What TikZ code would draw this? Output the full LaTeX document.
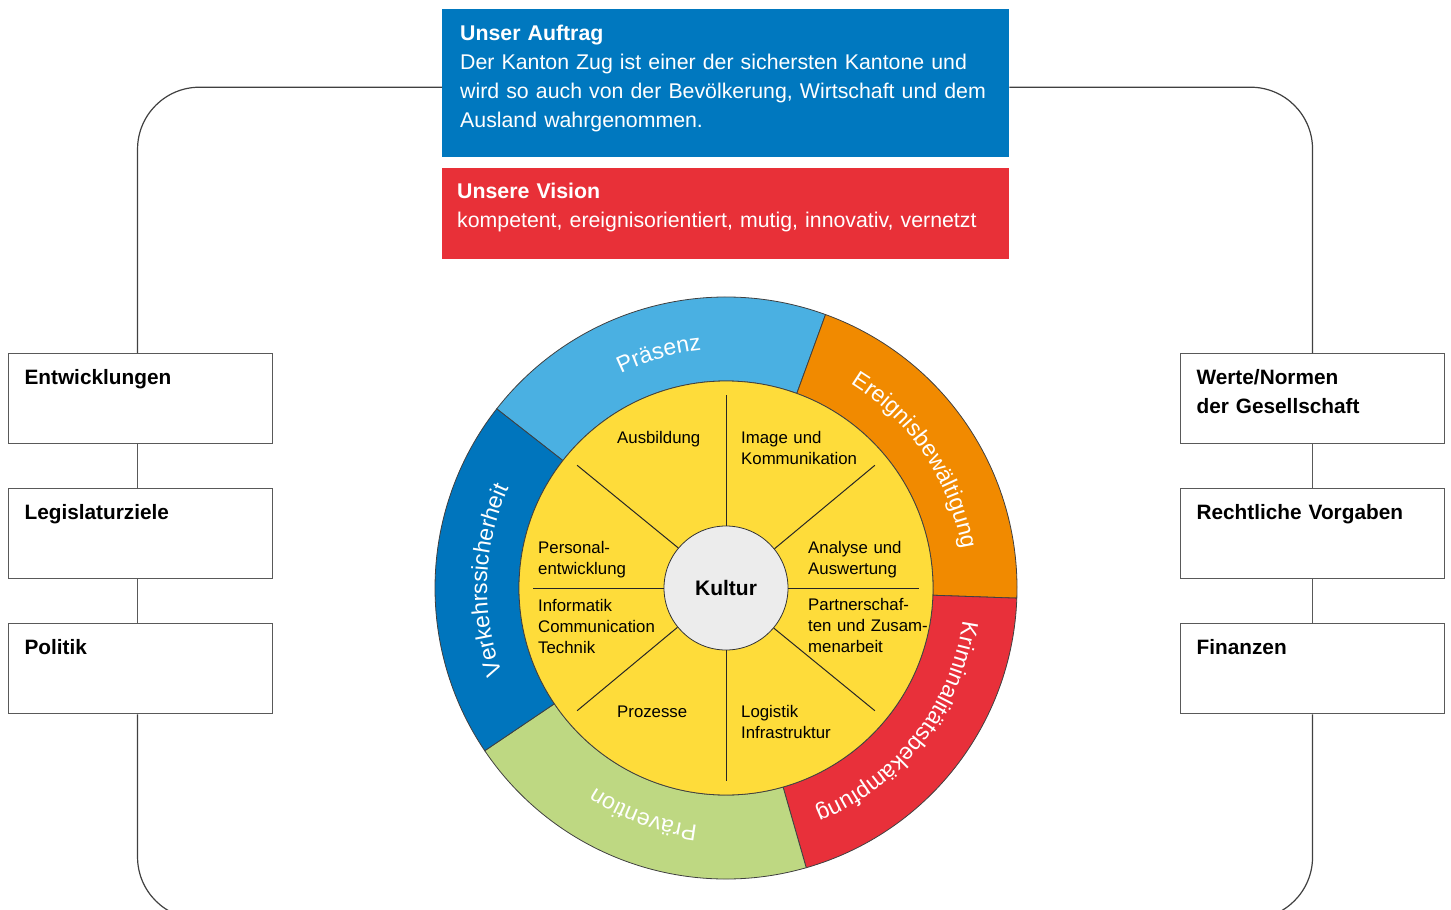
\documentclass[tikz,border=0pt]{standalone}
\usepackage{fontspec}
\setmainfont{Liberation Sans}
\usetikzlibrary{positioning}
\usetikzlibrary{decorations.text}
\usepackage{xcolor}

\definecolor{auftragblue}{RGB}{0,120,191}
\definecolor{visionred}{RGB}{232,48,56}
\definecolor{praesenzblue}{RGB}{74,176,226}
\definecolor{ereignisorange}{RGB}{241,138,0}
\definecolor{krimred}{RGB}{232,48,58}
\definecolor{praeventiongreen}{RGB}{190,216,130}
\definecolor{verkehrblue}{RGB}{0,117,189}
\definecolor{wheelyellow}{RGB}{254,220,58}
\definecolor{kulturgrey}{RGB}{236,236,236}

\begin{document}
\begin{tikzpicture}[
		x=1pt, y=1pt,
		% Style definitions for boxes and wheel
		topbox/.style={anchor=north west, text width=531pt, align=left, inner xsep=18pt, inner ysep=0pt, text=white, font=\fontsize{21.3}{29}\selectfont},
		sidebox/.style={draw=black!65, line width=1.1pt, fill=white, text width=232pt, align=left, inner xsep=16pt, inner ysep=0pt, text height=31pt, text depth=59pt, font=\bfseries\fontsize{20.8}{28.5}\selectfont},
		frame/.style={draw=black!75, line width=1.2pt, rounded corners=62pt},
		link/.style={draw=black!65, line width=1.1pt},
		segment/.style={draw=black!75, line width=0.8pt},
		spoke/.style={draw=black!85, line width=1pt},
		lbl/.style={anchor=base west, text width=150pt, align=left, inner sep=0pt, font=\fontsize{16.8}{21}\selectfont},
		ringtext/.style={decorate, decoration={text along path, text align=center, text color=white}},
		% Gap between the side boxes
		node distance=44pt,
		]
		\useasboundingbox (0,0) rectangle (1451,-910);
		\clip (0,0) rectangle (1451,-910);

		% === Mission and vision (top) ===
		\node[topbox, fill=auftragblue, text height=31pt, text depth=117pt] (auftrag) at (442,-9) {%
			\textbf{Unser Auftrag}\\Der Kanton Zug ist einer der sichersten Kantone und\\wird so auch von der Bevölkerung, Wirtschaft und dem\\Ausland wahrgenommen.};
		\node[topbox, fill=visionred, inner xsep=15pt, text width=537pt, text height=31pt, text depth=60pt, below=10pt of auftrag] (vision) {%
			\textbf{Unsere Vision}\\kompetent, ereignisorientiert, mutig, innovativ, vernetzt};

		% === Left column ===
		\node[sidebox, anchor=north west] (ent) at (8,-353) {Entwicklungen};
		\node[sidebox, below=of ent] (leg) {Legislaturziele};
		\node[sidebox, below=of leg] (pol) {Politik};

		% === Right column ===
		\node[sidebox, anchor=north west] (werte) at (1180,-353) {Werte/Normen\\der Gesellschaft};
		\node[sidebox, below=of werte] (recht) {Rechtliche Vorgaben};
		\node[sidebox, below=of recht] (fin) {Finanzen};

		% === Frame round everything ===
		\coordinate (bot) at (726,-919);
		\draw[frame] ([xshift=-3pt]ent.north) |- ([yshift=-4pt]auftrag.west);
		\draw[frame] (werte.north) |- ([yshift=-4pt]auftrag.east);
		\draw[frame] ([xshift=-3pt]pol.south) |- (bot) -| (fin.south);
		\draw[link] ([xshift=-3pt]ent.south) -- ([xshift=-3pt]leg.north);
		\draw[link] ([xshift=-3pt]leg.south) -- ([xshift=-3pt]pol.north);
		\draw[link] (werte.south) -- (recht.north);
		\draw[link] (recht.south) -- (fin.north);

		% === Wheel ===
		\begin{scope}[shift={(726,-588)}]
			% outer ring
			\filldraw[segment, fill=praesenzblue] (70:291) arc[start angle=70, end angle=142, radius=291] -- (142:207) arc[start angle=142, end angle=70, radius=207] -- cycle;
			\filldraw[segment, fill=ereignisorange] (-2:291) arc[start angle=-2, end angle=70, radius=291] -- (70:207) arc[start angle=70, end angle=-2, radius=207] -- cycle;
			\filldraw[segment, fill=krimred] (-74:291) arc[start angle=-74, end angle=-2, radius=291] -- (-2:207) arc[start angle=-2, end angle=-74, radius=207] -- cycle;
			\filldraw[segment, fill=praeventiongreen] (214:291) arc[start angle=214, end angle=286, radius=291] -- (286:207) arc[start angle=286, end angle=214, radius=207] -- cycle;
			\filldraw[segment, fill=verkehrblue] (142:291) arc[start angle=142, end angle=214, radius=291] -- (214:207) arc[start angle=214, end angle=142, radius=207] -- cycle;

			% ring labels, read clockwise
			\path[ringtext, decoration={text={|\fontsize{23}{23}\selectfont|Präsenz}}] (142:239) arc[start angle=142, end angle=70, radius=239];
			\path[ringtext, decoration={text={|\fontsize{23}{23}\selectfont|Ereignisbewältigung}}] (70:239) arc[start angle=70, end angle=-2, radius=239];
			\path[ringtext, decoration={text={|\fontsize{23}{23}\selectfont|Kriminalitätsbekämpfung}}] (-2:239) arc[start angle=-2, end angle=-74, radius=239];
			\path[ringtext, decoration={text={|\fontsize{23}{23}\selectfont|Prävention}}] (-74:239) arc[start angle=-74, end angle=-146, radius=239];
			\path[ringtext, decoration={text={|\fontsize{23}{23}\selectfont|Verkehrssicherheit}}] (214:239) arc[start angle=214, end angle=142, radius=239];

			% yellow disc with the core
			\filldraw[segment, fill=wheelyellow] (0,0) circle[radius=207];
			\node[circle, draw=black!80, line width=0.8pt, fill=kulturgrey, minimum size=124pt, inner sep=0pt, font=\bfseries\fontsize{21}{21}\selectfont] (kultur) at (0,0) {Kultur};
			\foreach \a in {0,39.5,90,140.5,180,219.5,270,320.5}
				\draw[spoke] (kultur.\a) -- (\a:193);

			% inner labels
			\node[lbl] (ausb) at (-109,145) {Ausbildung};
			\node[lbl] (image) at (15,145) {Image und\\Kommunikation};
			\node[lbl] (personal) at (-188,35) {Personal-\\entwicklung};
			\node[lbl] (analyse) at (82,35) {Analyse und\\Auswertung};
			\node[lbl] (ict) at (-188,-23) {Informatik\\Communication\\Technik};
			\node[lbl] (partner) at (82,-22) {Partnerschaf-\\ten und Zusam-\\menarbeit};
			\node[lbl] (prozesse) at (-109,-129) {Prozesse};
			\node[lbl] (logistik) at (15,-129) {Logistik\\Infrastruktur};
		\end{scope}

	\end{tikzpicture}
\end{document}
